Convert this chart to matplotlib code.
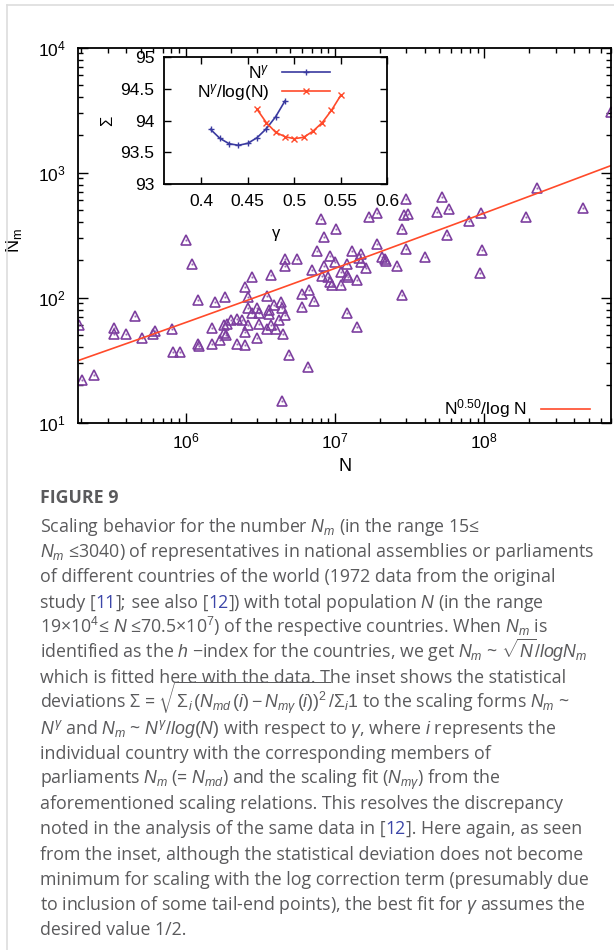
"""
Figure 9: N_m vs population N (log-log) with sqrt(N)/log N fit, inset of Sigma vs gamma.
"""
import matplotlib
matplotlib.use("Agg")
import matplotlib.pyplot as plt
from matplotlib.lines import Line2D
from matplotlib.ticker import LogLocator, LogFormatterMathtext, NullFormatter
import numpy as np

plt.rcParams['font.family'] = ['Liberation Sans', 'DejaVu Sans']
plt.rcParams['mathtext.fontset'] = 'custom'
plt.rcParams['mathtext.rm'] = 'Liberation Sans'
plt.rcParams['mathtext.it'] = 'Liberation Sans:italic'
plt.rcParams['mathtext.bf'] = 'Liberation Sans:bold'

# population N and number of representatives Nm
pop = [1.0e6, 1.1e6, 1.21e6, 1.93e5, 3.3e5, 3.3e5, 4.0e5, 4.6e5, 5.1e5, 6.0e5,
       6.2e5, 8.1e5, 8.2e5, 9.1e5, 1.21e6, 1.22e6, 1.5e6, 1.5e6, 1.58e6, 2.03e5,
       2.43e5,
       8.1e6, 1.02e7, 8.4e6, 7.6e6, 4.6e6, 4.6e6, 5.6e6, 9.3e6, 1.0e7, 8.4e6,
       2.8e6, 3.7e6, 7.0e6, 8.2e6, 9.0e6, 1.1e7, 9.3e6, 9.5e6, 1.09e7, 2.5e6,
       2.6e6, 3.5e6, 6.0e6, 6.7e6, 1.83e6, 2.6e6, 2.8e6, 3.0e6, 3.1e6, 3.6e6,
       3.6e6, 3.9e6, 4.35e6, 4.4e6, 4.65e6, 6.0e6, 7.2e6, 1.2e7, 1.8e6, 1.9e6,
       2.0e6, 2.2e6, 2.4e6, 2.6e6, 3.1e6, 3.5e6, 3.7e6, 4.0e6, 4.2e6, 1.8e6,
       1.85e6, 2.5e6, 4.5e6, 1.7e6, 2.2e6, 2.5e6, 3.0e6, 4.9e6, 6.6e6, 4.4e6,
       3.0e7, 5.2e7, 5.8e7, 4.8e7, 3.1e7, 2.9e7, 1.9e7, 1.7e7, 2.8e7, 5.6e7,
       7.9e7, 1.9e7, 1.3e7, 1.5e7, 3.0e7, 4.0e7, 2.05e7, 2.15e7, 2.2e7, 2.6e7,
       1.2e7, 1.45e7, 1.5e7, 1.6e7, 1.2e7, 1.22e7, 1.4e7, 2.8e7, 1.4e7,
       7.05e8, 2.25e8, 4.6e8, 9.5e7, 1.9e8, 9.7e7, 9.4e7]
members = [290, 185, 96, 60, 57, 51, 51, 72, 48, 51,
           54, 56, 37, 37, 43, 41, 43, 57, 92, 22,
           24,
           424, 356, 304, 235, 204, 180, 203, 216, 192, 179,
           146, 152, 167, 149, 146, 160, 134, 126, 126, 122,
           101, 104, 108, 115, 101, 82, 76, 82, 76, 80,
           74, 87, 92, 82, 73, 84, 94, 75, 61, 62,
           66, 68, 66, 60, 62, 56, 60, 56, 66, 52,
           50, 53, 51, 46, 43, 42, 48, 35, 28, 15,
           613, 640, 510, 488, 467, 456, 473, 440, 356, 319,
           411, 269, 238, 224, 244, 213, 213, 203, 196, 179,
           186, 208, 192, 173, 152, 146, 139, 106, 58,
           3040, 760, 520, 473, 445, 242, 158]

# fit N_m = c * N^gamma / log N
fit_gamma = 0.50
fit_c = 0.38
x_range = (1.9e5, 7.05e8)

# inset: statistical deviation Sigma vs gamma
gam_pow = [0.41, 0.42, 0.43, 0.44, 0.45, 0.46, 0.47, 0.48, 0.49]
sig_pow = [93.863, 93.721, 93.636, 93.611, 93.642, 93.731, 93.873, 94.062, 94.310]
gam_log = [0.46, 0.47, 0.48, 0.49, 0.50, 0.51, 0.52, 0.53, 0.54, 0.55]
sig_log = [94.179, 93.968, 93.816, 93.747, 93.715, 93.737, 93.832, 93.968, 94.163, 94.400]
inset_xticks = [0.4, 0.45, 0.5, 0.55, 0.6]
inset_yticks = [93, 93.5, 94, 94.5, 95]

purple = '#7d3f9f'
red = '#ff4a2a'
blue = '#3a3aa0'

W, H = 614, 950
fig = plt.figure(figsize=(W / 100, H / 100), dpi=100)

# main axes
ax = fig.add_axes([78 / W, 1 - 422.7 / H, 533 / W, 375 / H])
ax.set_xscale('log')
ax.set_yscale('log')
ax.set_xlim(*x_range)
ax.set_ylim(10, 1e4)

ax.plot(pop, members, linestyle='none', marker='^', ms=7, mfc='none', mec=purple, mew=1.2)
ax.plot(pop, members, linestyle='none', marker='.', ms=1.5, color=purple, alpha=0.6)

xs = np.logspace(np.log10(x_range[0]), np.log10(x_range[1]), 200)
ax.plot(xs, fit_c * xs ** fit_gamma / np.log10(xs), color=red, lw=1.2,
        label=r'N$^{0.50}$/log N')

ax.xaxis.set_major_locator(LogLocator(base=10, numticks=10))
ax.yaxis.set_major_locator(LogLocator(base=10, numticks=10))
ax.xaxis.set_major_formatter(LogFormatterMathtext())
ax.yaxis.set_major_formatter(LogFormatterMathtext())
ax.xaxis.set_minor_locator(LogLocator(base=10, subs=np.arange(2, 10), numticks=20))
ax.yaxis.set_minor_locator(LogLocator(base=10, subs=np.arange(2, 10), numticks=20))
ax.xaxis.set_minor_formatter(NullFormatter())
ax.yaxis.set_minor_formatter(NullFormatter())
ax.tick_params(which='both', direction='in', top=True, right=True, labelsize=12.5, width=1.0)
ax.tick_params(which='major', length=7)
ax.tick_params(which='minor', length=3.5)
ax.tick_params(axis='y', pad=9)
ax.tick_params(axis='x', pad=6)
for s in ax.spines.values():
    s.set_linewidth(1.3)

ax.set_xlabel('N', fontsize=13)
ax.set_ylabel(r'N$_{\rm m}$', fontsize=13)
ax.xaxis.set_label_coords(0.501, -0.094)
ax.yaxis.set_label_coords(-0.102, 0.487)

ax.legend(loc='center right', bbox_to_anchor=(589.5 / W, 1 - 409 / H),
          bbox_transform=fig.transFigure, frameon=False, markerfirst=False,
          fontsize=12.5, handlelength=2.8, handletextpad=0.8,
          borderpad=0, borderaxespad=0)

# inset
ins = fig.add_axes([164 / W, 1 - 184 / H, 223.3 / W, 126.7 / H])
ins.plot(gam_pow, sig_pow, color=blue, lw=1.2, marker='+', ms=5, mew=1.0, label=r'N$^{\gamma}$')
ins.plot(gam_log, sig_log, color=red, lw=1.2, marker='x', ms=4, mew=1.0,
         label=r'N$^{\gamma}$/log(N)')
ins.set_xlim(0.36, 0.6)
ins.set_ylim(93, 95)
ins.set_xticks(inset_xticks)
ins.set_xticklabels([f'{v:g}' for v in inset_xticks])
ins.set_yticks(inset_yticks)
ins.set_yticklabels([f'{v:g}' for v in inset_yticks])
ins.tick_params(direction='in', top=True, right=True, labelsize=12.5, length=5, width=1.0)
ins.tick_params(axis='y', pad=7)
ins.tick_params(axis='x', pad=7)
for s in ins.spines.values():
    s.set_linewidth(1.3)
ins.set_xlabel('γ', fontsize=12)
ins.set_ylabel('Σ', fontsize=12, rotation=90)
ins.xaxis.set_label_coords(0.50, -0.33)
ins.yaxis.set_label_coords(-0.22, 0.5)
ins.legend(loc='upper right', bbox_to_anchor=(330 / W, 1 - 63 / H),
           bbox_transform=fig.transFigure, frameon=False, markerfirst=False,
           fontsize=12.5, handlelength=2.75, handletextpad=0.75, labelspacing=0.05,
           borderpad=0, borderaxespad=0, numpoints=1)

# card frame
fig.add_artist(Line2D([7 / W, 7 / W], [0, 1 - 5 / H], color='#dddddd', lw=1.2))
fig.add_artist(Line2D([7 / W, 1], [1 - 5 / H, 1 - 5 / H], color='#dddddd', lw=1.2))

# caption
grey = '#5a5a5c'
link = '#3c46a8'
cap_font = ['Open Sans', 'DejaVu Sans']
cap_size = 12.8
max_w = 558
x0 = 40 / W

fig.text(x0, 1 - 503 / H, 'FIGURE 9', family=cap_font, fontsize=12.8,
         fontweight='bold', color=grey, va='baseline')

G, L = 'g', 'l'
caption = [
    [(r'Scaling behavior for the number $N_m$ (in the range 15≤', G)],
    [(r'$N_m$ ≤3040) of representatives in national assemblies or parliaments', G)],
    [('of different countries of the world (1972 data from the original', G)],
    [('study [', G), ('11', L), ('];', G), (' see also [', G), ('12', L),
     (r']) with total population $N$ (in the range', G)],
    [(r'19×10$^4$≤ $N$ ≤70.5×10$^7$) of the respective countries. When $N_m$ is', G)],
    [(r'identified as the $h$ −index for the countries, we get $N_m$ ~ $\sqrt{N}/logN_m$', G)],
    [('which is fitted here with the data. The inset shows the statistical', G)],
    [(r'deviations Σ = $\sqrt{\Sigma_i\,(N_{md}\,(i) - N_{m\gamma}\,(i))^2}/\Sigma_i 1$'
      r' to the scaling forms $N_m$ ~', G)],
    [(r'$N^\gamma$ and $N_m$ ~ $N^\gamma/log(N)$ with respect to $\gamma$, where $i$ represents the', G)],
    [('individual country with the corresponding members of', G)],
    [(r'parliaments $N_m$ (= $N_{md}$) and the scaling fit ($N_{m\gamma}$) from the', G)],
    [('aforementioned scaling relations. This resolves the discrepancy', G)],
    [('noted in the analysis of the same data in [', G), ('12', L), (']. Here again, as seen', G)],
    [('from the inset, although the statistical deviation does not become', G)],
    [('minimum for scaling with the log correction term (presumably due', G)],
    [(r'to inclusion of some tail-end points), the best fit for $\gamma$ assumes the', G)],
    [('desired value 1/2.', G)],
]

renderer = fig.canvas.get_renderer()


def text_width(s, size):
    # width including leading / trailing spaces, measured between bars
    t1 = fig.text(0, 0, '|' + s + '|', family=cap_font, fontsize=size)
    t2 = fig.text(0, 0, '||', family=cap_font, fontsize=size)
    w = t1.get_window_extent(renderer).width - t2.get_window_extent(renderer).width
    t1.remove()
    t2.remove()
    return w


for i, parts in enumerate(caption):
    base = 1 - (532 + 25.2 * i) / H
    total = text_width(''.join(s for s, _ in parts), cap_size)
    size = cap_size if total <= max_w else cap_size * max_w / total
    x = x0
    for s, kind in parts:
        col = link if kind == L else grey
        fig.text(x, base, s, family=cap_font, fontsize=size, color=col, va='baseline')
        x += text_width(s, size) / W

fig.savefig('out.png', dpi=100)
